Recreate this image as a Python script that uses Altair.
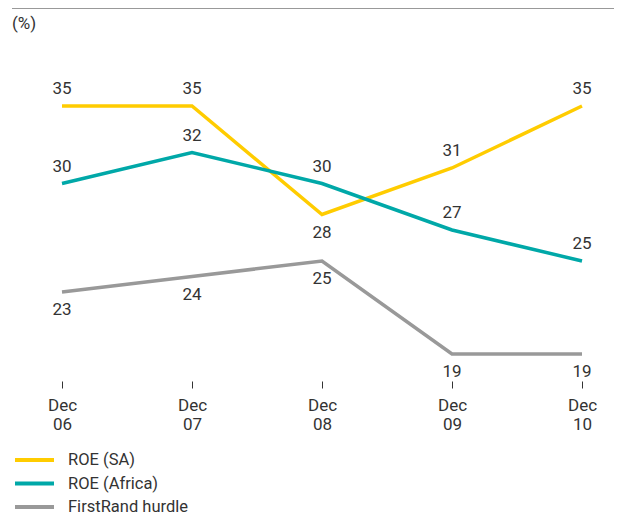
import altair as alt
import pandas as pd

periods = ["Dec 06", "Dec 07", "Dec 08", "Dec 09", "Dec 10"]
series = ["ROE (SA)", "ROE (Africa)", "FirstRand hurdle"]
roe_sa = [35, 35, 28, 31, 35]
roe_africa = [30, 32, 30, 27, 25]
hurdle = [23, 24, 25, 19, 19]
colors = ["#FFCC00", "#00A8A8", "#999999"]

rows = []
for s, vals in zip(series, [roe_sa, roe_africa, hurdle]):
    for i, (p, v) in enumerate(zip(periods, vals)):
        rows.append({"series": s, "period": p, "value": v, "idx": i})
df = pd.DataFrame(rows)
legend_df = pd.DataFrame({"series": series})

FONT = "Roboto"
TXT = "#333333"

x = alt.X("period:N", sort=periods,
          scale=alt.Scale(type="point", range=[54, 574], padding=0),
          axis=alt.Axis(title=None, domain=False, grid=False, tickSize=7, tickColor="#333333",
                        tickWidth=1, labelAngle=0, labelPadding=9, labelFontSize=17,
                        labelFont=FONT, labelColor=TXT, labelLineHeight=19,
                        labelBaseline="top",
                        labelExpr="split(datum.label, ' ')"))
y = alt.Y("value:Q", scale=alt.Scale(domain=[19, 35], range=[346, 98], nice=False, zero=False),
          axis=None)
color = alt.Color("series:N", sort=series,
                  scale=alt.Scale(domain=series, range=colors), legend=None)

base = alt.Chart(df)

lines = base.mark_line(strokeWidth=3.5).encode(x=x, y=y, color=color, order="idx:Q")

below_expr = "datum.series == 'FirstRand hurdle' || (datum.series == 'ROE (SA)' && datum.period == 'Dec 08')"

labels_above = base.transform_filter("!(" + below_expr + ")").mark_text(
    dy=-17, fontSize=17, font=FONT, color=TXT, baseline="middle", align="center"
).encode(x=x, y=y, text="value:Q")

labels_below = base.transform_filter(below_expr).mark_text(
    dy=18, fontSize=17, font=FONT, color=TXT, baseline="middle", align="center"
).encode(x=x, y=y, text="value:Q")

top_rule = alt.Chart(alt.Data(values=[{}])).mark_rule(color="#999999", strokeWidth=1).encode(
    x=alt.value(4), x2=alt.value(606), y=alt.value(0.5))

unit = alt.Chart(alt.Data(values=[{}])).mark_text(
    fontSize=17, font=FONT, color=TXT, align="left", baseline="middle"
).encode(x=alt.value(4), y=alt.value(16), text=alt.value("(%)"))

ly = alt.Y("series:N", sort=series,
           scale=alt.Scale(type="point", domain=series, range=[452, 499], padding=0),
           axis=None)
leg = alt.Chart(legend_df)
leg_sym = leg.mark_rule(strokeWidth=4).encode(
    y=ly, x=alt.value(7), x2=alt.value(46), color=color)
leg_txt = leg.mark_text(fontSize=16.5, font=FONT, color=TXT, align="left", baseline="middle").encode(
    y=ly, x=alt.value(60), text="series:N")

data_layers = alt.layer(top_rule, unit, lines, labels_above, labels_below)
legend_layers = alt.layer(leg_sym, leg_txt)

chart = alt.layer(data_layers, legend_layers).resolve_scale(y="independent").properties(
    width=606, height=373,
    autosize=alt.AutoSizeParams(type="none"),
    padding={"left": 0, "top": 0, "right": 0, "bottom": 137},
).configure_view(stroke=None)

chart.save("out.html", embed_options={"renderer": "svg", "actions": False})
